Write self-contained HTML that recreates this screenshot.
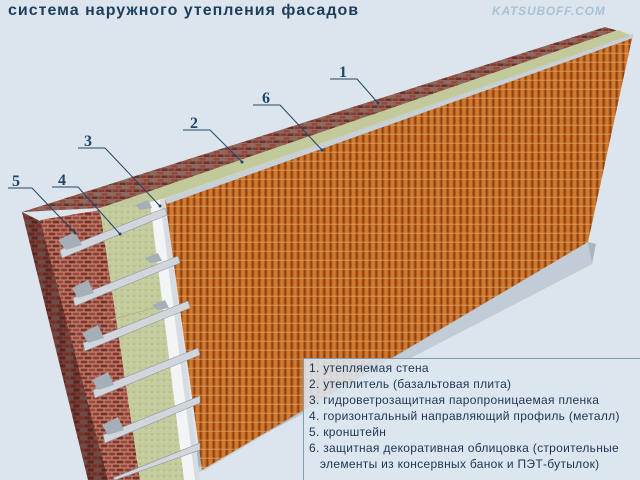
<!DOCTYPE html>
<html><head><meta charset="utf-8"><style>
html,body{margin:0;padding:0;width:640px;height:480px;overflow:hidden;background:#dce5ed}
svg{position:absolute;left:0;top:0}
.t{position:absolute;font-family:"Liberation Sans",sans-serif}
</style></head><body>
<svg width="640" height="480" viewBox="0 0 640 480">
<defs>
<pattern id="brick" width="16" height="8" patternUnits="userSpaceOnUse">
<rect width="16" height="8" fill="#b89a88"/>
<rect x="0.5" y="0.5" width="7" height="3" fill="#8e3328"/>
<rect x="8.5" y="0.5" width="7" height="3" fill="#a8463a"/>
<rect x="-3.5" y="4.5" width="7" height="3" fill="#9a3c30"/>
<rect x="4.5" y="4.5" width="7" height="3" fill="#7e2c22"/>
<rect x="12.5" y="4.5" width="7" height="3" fill="#9a3c30"/>
</pattern>
<pattern id="brickt" width="14" height="7" patternUnits="userSpaceOnUse">
<rect width="14" height="7" fill="#8c6a60"/>
<rect x="0.5" y="0.5" width="6" height="2.5" fill="#8a3a30"/>
<rect x="7.5" y="0.5" width="6" height="2.5" fill="#6e3028"/>
<rect x="3.5" y="4" width="6" height="2.5" fill="#9a4638"/>
</pattern>
<pattern id="brickd" width="14" height="8" patternUnits="userSpaceOnUse">
<rect width="14" height="8" fill="#6e4a44"/>
<rect x="0.5" y="0.5" width="6" height="3" fill="#6a2620"/>
<rect x="7.5" y="0.5" width="6" height="3" fill="#7a2e24"/>
<rect x="3.5" y="4.5" width="6" height="3" fill="#5e221c"/>
</pattern>
<pattern id="cans" width="6.5" height="9" patternUnits="userSpaceOnUse">
<rect width="6.5" height="9" fill="#b85e1c"/>
<rect x="1" width="3" height="9" fill="#cf7a2e"/>
<rect x="5" width="1.5" height="9" fill="#8c4414"/>
<rect y="7.8" width="6.5" height="0.7" fill="#e2aa78"/>
</pattern>
<pattern id="ins" width="6" height="6" patternUnits="userSpaceOnUse">
<rect width="6" height="6" fill="#c4cb9c"/>
<circle cx="2" cy="2" r="1" fill="#b2ba88"/>
<circle cx="5" cy="4" r="0.8" fill="#d2d7ae"/>
</pattern>
</defs>
<!-- base shadow -->
<polygon points="588,242 596,244 592,264 175,480 140,480" fill="#a9b6c2"/>
<polygon points="588,242 592,264 175,480 205,470" fill="#c2ccd6"/>
<!-- brick top -->
<polygon points="22,212 605,27 625,33 100,208" fill="url(#brickt)"/>
<!-- insulation top -->
<polygon points="95,210 618,30 630,35 160,200" fill="#c2ca9c"/>
<!-- brick end face -->
<polygon points="22,212 42,222 110,480 88,480" fill="url(#brickd)"/>
<!-- brick front -->
<polygon points="40,220 100,210 140,480 108,480" fill="url(#brick)"/>
<!-- insulation front -->
<polygon points="100,208 155,200 190,480 140,480" fill="url(#ins)"/>
<line x1="110" y1="320" x2="165" y2="305" stroke="#b0b888" stroke-width="1"/>
<!-- film -->
<polygon points="150,202 166,198 200,480 184,480" fill="#f2f4f6"/>
<polygon points="160,200 166,198 200,480 195,480" fill="#d6dce2"/>
<!-- cladding -->
<polygon points="165,199 633,34 588,242 202,470" fill="url(#cans)"/>
<polygon points="165,199 633,34 633,38 167,204" fill="#c6d0d8"/>
<!-- rails -->
<g fill="#d0d6dc" stroke="#8e98a2" stroke-width="0.6">
<polygon points="60,250 165,208 167,215 62,258"/>
<polygon points="73,298 178,256 180,263 75,306"/>
<polygon points="83,343 188,301 190,308 85,351"/>
<polygon points="93,390 198,348 200,355 95,398"/>
<polygon points="103,435 200,396 200,403 105,443"/>
<polygon points="113,478 200,443 200,450 115,480"/>
</g>
<g fill="#a6afb8">
<polygon points="58,240 75,232 82,245 66,250"/>
<polygon points="72,288 88,280 94,293 78,298"/>
<polygon points="82,333 98,325 104,338 88,343"/>
<polygon points="92,380 108,372 114,385 98,390"/>
<polygon points="102,425 118,417 124,430 108,435"/>
<polygon points="135,205 148,200 152,208 140,210"/>
<polygon points="145,258 158,253 162,261 150,263"/>
<polygon points="152,305 165,300 169,308 157,310"/>
</g>
<!-- leaders -->
<g stroke="#1f4568" stroke-width="1" fill="none">
<polyline points="330,79 357,79 378,103"/>
<polyline points="253,105 280,105 322,150"/>
<polyline points="183,130 210,130 242,162"/>
<polyline points="78,148 105,148 160,206"/>
<polyline points="52,187 78,187 120,234"/>
<polyline points="8,188 32,188 75,233"/>
</g>
<g fill="#1f4568"><circle cx="378" cy="103" r="1.5"/><circle cx="322" cy="150" r="1.5"/><circle cx="242" cy="162" r="1.5"/><circle cx="160" cy="206" r="1.5"/><circle cx="120" cy="234" r="1.5"/><circle cx="75" cy="233" r="1.5"/></g>
<g font-family="Liberation Serif,serif" font-weight="bold" font-size="16" fill="#1f4568">
<text x="339" y="77">1</text><text x="262" y="103">6</text><text x="190" y="128">2</text><text x="84" y="146">3</text><text x="58" y="185">4</text><text x="12" y="186">5</text>
</g>
<rect x="303.5" y="358.5" width="340" height="125" fill="rgba(220,230,238,0.9)" stroke="#7f9db3"/>
</svg>
<div class="t" style="left:8px;top:2px;font-size:16px;font-weight:bold;color:#1d3f5c;letter-spacing:1px">система наружного утепления фасадов</div>
<div class="t" style="left:492px;top:4px;font-size:12px;font-weight:bold;font-style:italic;color:#a8c2d6;letter-spacing:0.8px">KATSUBOFF.COM</div>
<div class="t" style="left:309px;top:360px;font-size:12px;line-height:16px;color:#1d3550;letter-spacing:0.3px;white-space:nowrap">1. утепляемая стена<br>2. утеплитель (базальтовая плита)<br>3. гидроветрозащитная паропроницаемая пленка<br>4. горизонтальный направляющий профиль (металл)<br>5. кронштейн<br>6. защитная декоративная облицовка (строительные<br>&nbsp;&nbsp;&nbsp;элементы из консервных банок и ПЭТ-бутылок)</div>
</body></html>
